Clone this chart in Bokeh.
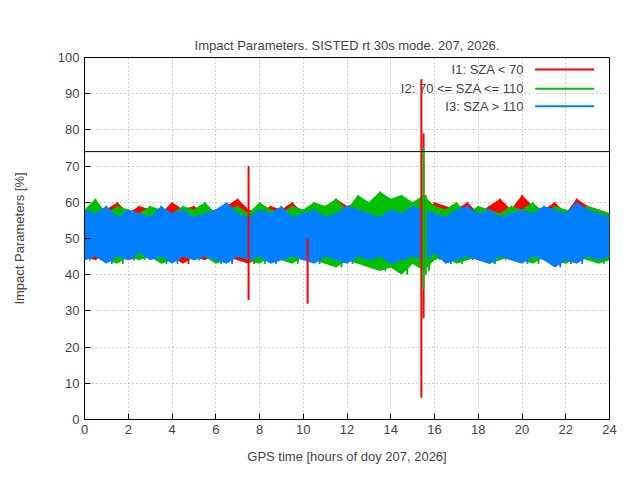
from bokeh.plotting import figure
from bokeh.models import Span, Label, FixedTicker
from bokeh.embed import file_html
from bokeh.resources import INLINE

# envelope values read every 0.5 h
blue_hi = [58,57,59,56,58,57,56,59,57,58,56,57,58,60,57,56,58,57,59,56,57,58,56,57,59,58,57,56,58,57,59,58,57,56,58,59,57,58,56,57,58,57,59,58,57,60,58,57,56]
blue_lo = [44,45,43,45,44,46,44,45,43,45,44,45,44,43,45,44,45,43,44,45,44,43,45,44,43,45,44,45,43,44,45,44,46,43,44,45,44,43,45,44,43,45,44,42,44,43,45,44,45]
red_hi = [57,59,58,60,57,59,58,57,60,58,59,57,58,59,61,58,57,59,58,60,57,59,58,61,59,60,58,62,57,59,58,57,60,59,58,60,57,59,61,58,62,59,58,60,57,61,59,58,57]
red_lo = [45,44,46,45,44,45,46,44,45,43,45,44,46,45,44,43,45,44,46,45,44,45,43,46,45,44,43,44,45,44,46,43,45,44,46,45,44,43,45,44,45,46,44,45,43,45,44,45,44]
green_hi = [58,61,57,59,58,57,59,58,57,59,58,60,57,58,59,57,60,58,57,59,58,60,59,61,58,62,60,63,61,62,60,62,59,58,60,57,59,58,57,59,58,60,57,59,58,57,59,58,57]
green_lo = [44,45,44,43,45,44,45,43,44,45,44,45,43,44,45,44,43,45,44,43,45,44,43,42,44,43,42,41,42,40,43,41,44,45,43,44,45,43,44,45,44,43,45,44,43,45,44,43,44]
red_spike_t = [7.5, 10.2, 15.4, 15.5]
red_spike_top = [70, 50, 94, 79]
red_spike_bot = [33, 32, 6, 28]
green_spike_t = [15.5, 15.6]
green_spike_top = [75, 62]
green_spike_bot = [36, 40]
threshold = 74
labels = ["I1: SZA < 70", "I2: 70 <= SZA <= 110", "I3: SZA > 110"]
colors = ["#ff0000", "#00c000", "#0080ff"]

F = "Liberation Sans"
p = figure(width=632, height=472, output_backend="svg", toolbar_location=None,
           x_range=(0, 24), y_range=(0, 100),
           min_border_left=84, min_border_right=23, min_border_top=57, min_border_bottom=53,
           title="Impact Parameters. SISTED rt 30s mode. 207, 2026.")
p.title.align = "center"; p.title.text_font = F; p.title.text_font_size = "13px"; p.title.text_font_style = "normal"
p.title.offset = 0
p.background_fill_color = "white"; p.outline_line_color = "black"

for (hi, lo), c in zip([(red_hi, red_lo), (green_hi, green_lo), (blue_hi, blue_lo)], colors):
    t = [i * 0.5 for i in range(len(hi))]
    p.varea(x=t, y1=lo, y2=hi, fill_color=c)
    xs, ys = [], []
    for i in range(len(hi) - 1):
        xs += [t[i], t[i] + 0.25]
        ys += [hi[i], lo[i]]
    p.line(xs, ys, color=c, line_width=1.5)
p.segment(red_spike_t, red_spike_bot, red_spike_t, red_spike_top, color=colors[0], line_width=2)
p.segment(green_spike_t, green_spike_bot, green_spike_t, green_spike_top, color=colors[1], line_width=2)
p.add_layout(Span(location=threshold, dimension="width", line_color="black", line_width=1))

ly = [96.7, 91.4, 86.5]
for lab, c, y in zip(labels, colors, ly):
    p.add_layout(Label(x=20.1, y=y, text=lab, text_align="right", text_baseline="middle",
                       text_font=F, text_font_size="13px"))
    p.segment([20.6], [y], [23.3], [y], color=c, line_width=2)

p.xaxis.ticker = FixedTicker(ticks=list(range(0, 25, 2)))
p.yaxis.ticker = FixedTicker(ticks=list(range(0, 101, 10)))
p.xaxis.axis_label = "GPS time [hours of doy 207, 2026]"
p.yaxis.axis_label = "Impact Parameters [%]"
for ax in (p.xaxis[0], p.yaxis[0]):
    ax.axis_label_text_font = F; ax.axis_label_text_font_size = "13px"; ax.axis_label_text_font_style = "normal"
    ax.major_label_text_font = F; ax.major_label_text_font_size = "13px"
    ax.minor_tick_line_color = None
    ax.major_tick_in = 6; ax.major_tick_out = 0
p.yaxis.axis_label_standoff = 28
p.xaxis.axis_label_standoff = 12
p.grid.grid_line_color = "#a0a0a0"; p.grid.grid_line_dash = "1 3"

open("out.html", "w").write(file_html(p, INLINE))
